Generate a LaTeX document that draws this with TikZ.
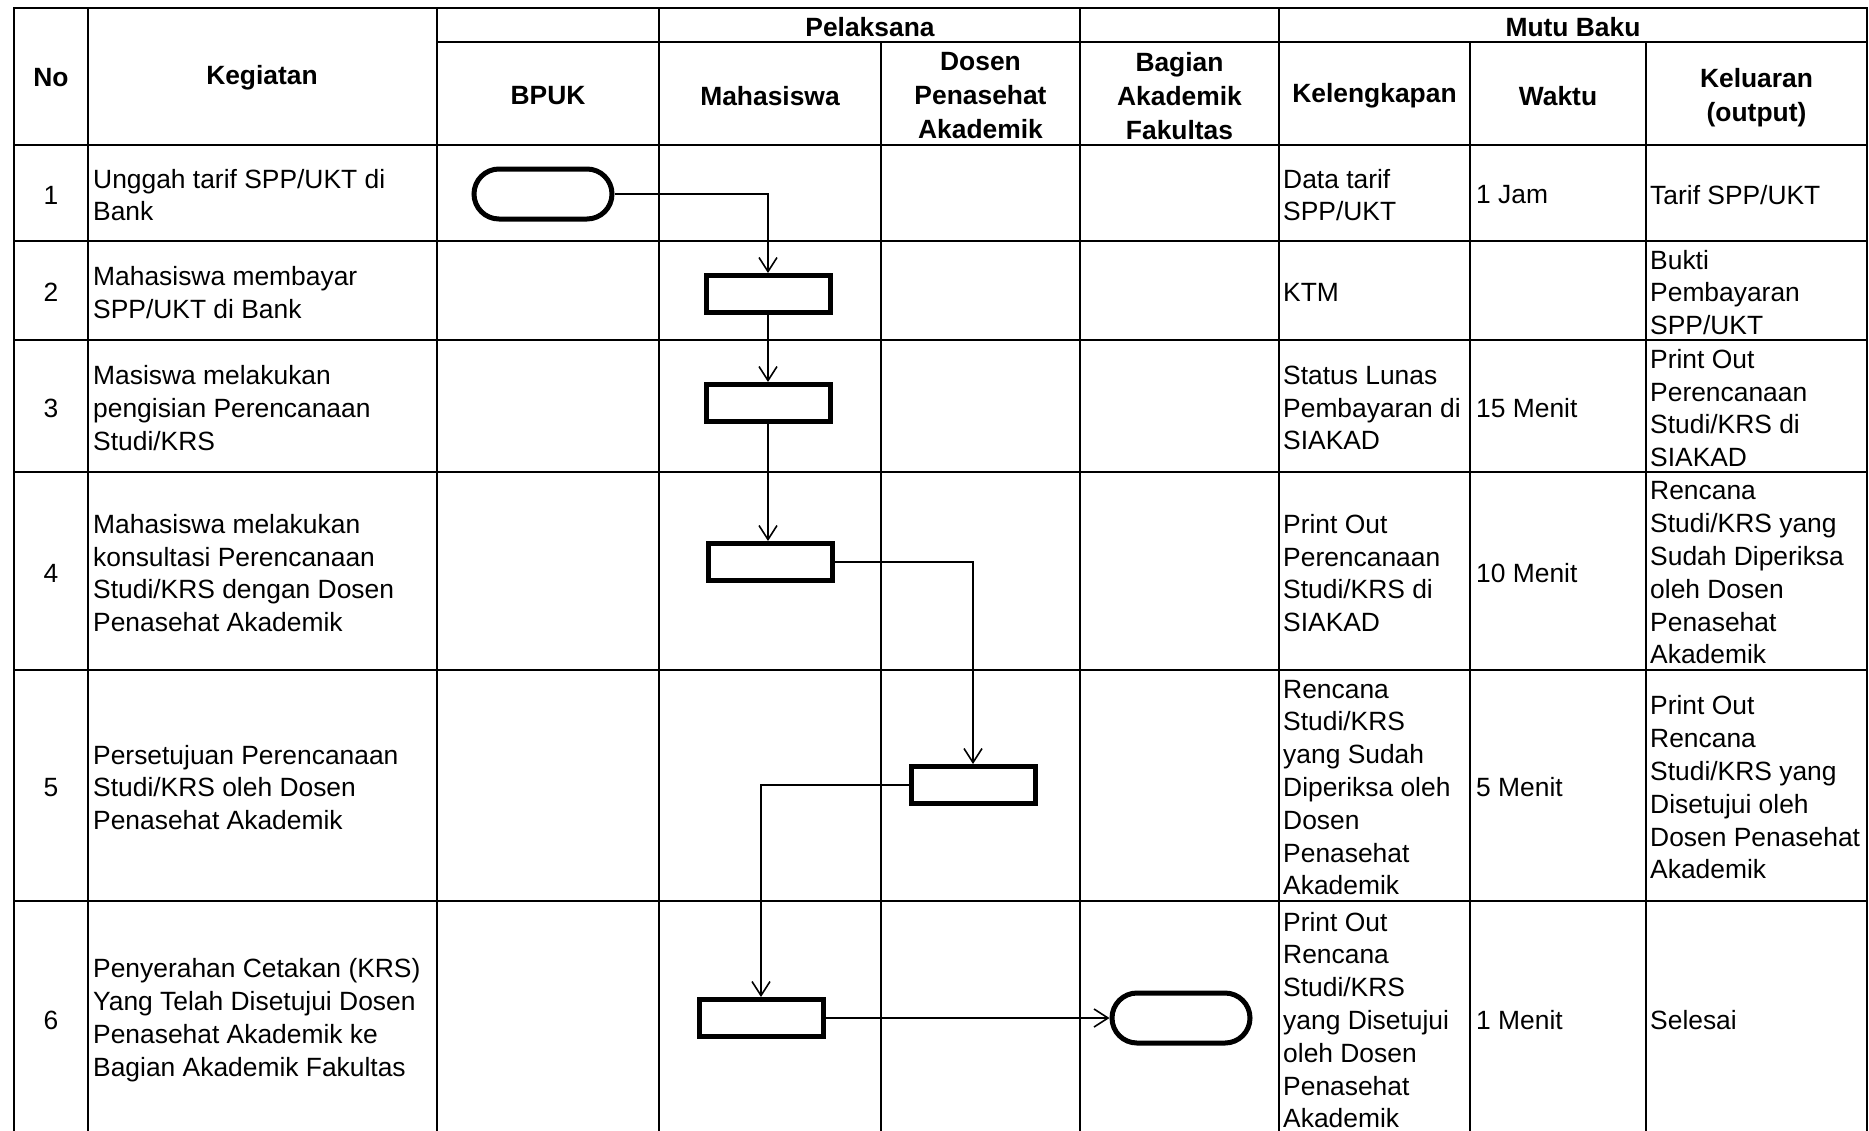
\documentclass[tikz,border=0pt]{standalone}
\usepackage{fontspec}
\setmainfont{Liberation Sans}
\usetikzlibrary{arrows.meta}
\begin{document}
\begin{tikzpicture}[x=1pt,y=-1pt,
  grid/.style={line width=2pt, line cap=rect},
  box/.style={draw, line width=5pt, minimum width=124pt, minimum height=37pt, inner sep=0pt},
  term/.style={draw, line width=5pt, rounded corners=25pt, minimum width=138pt, minimum height=50pt, inner sep=0pt},
  conn/.style={line width=1.6pt, -{Straight Barb[length=14pt,width=18pt,line width=1.6pt]}},
  txt/.style={font=\fontsize{26.4pt}{32.8pt}\selectfont, align=left, anchor=west, inner sep=0pt, yshift=-2pt},
  hd/.style={font=\fontsize{26.4pt}{34pt}\selectfont\bfseries, align=center, inner sep=0pt, yshift=-2pt},
  num/.style={font=\fontsize{26.4pt}{32.8pt}\selectfont, inner sep=0pt, yshift=-2pt}]
\fill[white] (0,0) rectangle (1869,1130);
\useasboundingbox (0,0) rectangle (1869,1130);
% grid
\foreach \yy in {8,145,241,340,472,670,901} \draw[grid] (14,\yy) -- (1867,\yy);
\draw[grid] (437,42) -- (1867,42);
\foreach \xx in {14,88,437,659,1080,1279,1867} \draw[grid] (\xx,8) -- (\xx,1130);
\foreach \xx in {881,1470,1646} \draw[grid] (\xx,42) -- (\xx,1130);
% headers
\node[hd] (hno) at (51,76) {No};
\node[hd] (hkeg) at (262,76) {Kegiatan};
\node[hd] (hpel) at (870,25) {Pelaksana};
\node[hd] (hmutu) at (1573,25) {Mutu Baku};
\node[hd] (hbpuk) at (548,94) {BPUK};
\node[hd] (hmhs) at (770,94) {Mahasiswa};
\node[hd] (hdpa) at (980.5,94) {Dosen\\Penasehat\\Akademik};
\node[hd] (hbaf) at (1179.5,94) {Bagian\\Akademik\\Fakultas};
\node[hd] (hkel) at (1374.5,94) {Kelengkapan};
\node[hd] (hwak) at (1558,94) {Waktu};
\node[hd] (hout) at (1756.5,96) {Keluaran\\(output)};
% row 1
\node[num] (n1) at (51,193) {1};
\node[txt] (k1) at (93,193) {Unggah tarif SPP/UKT di\\Bank};
\node[txt] (l1) at (1283,193) {Data tarif\\SPP/UKT};
\node[txt] (w1) at (1476,193) {1 Jam};
\node[txt] (o1) at (1650,193) {Tarif SPP/UKT};
% row 2
\node[num] (n2) at (51,290.5) {2};
\node[txt] (k2) at (93,290.5) {Mahasiswa membayar\\SPP/UKT di Bank};
\node[txt] (l2) at (1283,290.5) {KTM};
\node[txt] (o2) at (1650,290.5) {Bukti\\Pembayaran\\SPP/UKT};
% row 3
\node[num] (n3) at (51,406) {3};
\node[txt] (k3) at (93,406) {Masiswa melakukan\\pengisian Perencanaan\\Studi/KRS};
\node[txt] (l3) at (1283,406) {Status Lunas\\Pembayaran di\\SIAKAD};
\node[txt] (w3) at (1476,406) {15 Menit};
\node[txt] (o3) at (1650,406) {Print Out\\Perencanaan\\Studi/KRS di\\SIAKAD};
% row 4
\node[num] (n4) at (51,571) {4};
\node[txt] (k4) at (93,571) {Mahasiswa melakukan\\konsultasi Perencanaan\\Studi/KRS dengan Dosen\\Penasehat Akademik};
\node[txt] (l4) at (1283,571) {Print Out\\Perencanaan\\Studi/KRS di\\SIAKAD};
\node[txt] (w4) at (1476,571) {10 Menit};
\node[txt] (o4) at (1650,571) {Rencana\\Studi/KRS yang\\Sudah Diperiksa\\oleh Dosen\\Penasehat\\Akademik};
% row 5
\node[num] (n5) at (51,785.5) {5};
\node[txt] (k5) at (93,785.5) {Persetujuan Perencanaan\\Studi/KRS oleh Dosen\\Penasehat Akademik};
\node[txt] (l5) at (1283,785.5) {Rencana\\Studi/KRS\\yang Sudah\\Diperiksa oleh\\Dosen\\Penasehat\\Akademik};
\node[txt] (w5) at (1476,785.5) {5 Menit};
\node[txt] (o5) at (1650,785.5) {Print Out\\Rencana\\Studi/KRS yang\\Disetujui oleh\\Dosen Penasehat\\Akademik};
% row 6
\node[num] (n6) at (51,1018) {6};
\node[txt] (k6) at (93,1018) {Penyerahan Cetakan (KRS)\\Yang Telah Disetujui Dosen\\Penasehat Akademik ke\\Bagian Akademik Fakultas};
\node[txt] (l6) at (1283,1018) {Print Out\\Rencana\\Studi/KRS\\yang Disetujui\\oleh Dosen\\Penasehat\\Akademik};
\node[txt] (w6) at (1476,1018) {1 Menit};
\node[txt] (o6) at (1650,1018) {Selesai};
% flow shapes
\node[term] (t1) at (543,194) {};
\node[box] (b2) at (768,294) {};
\node[box] (b3) at (768,403) {};
\node[box] (b4) at (770,562) {};
\node[box] (b5) at (973,785) {};
\node[box] (b6) at (761,1018) {};
\node[term] (t6) at (1181,1018) {};
% connectors
\draw[conn] (t1.east) -| (b2.north);
\draw[conn] (b2.south) -- (b3.north);
\draw[conn] (b3.south) -- (b3.south |- b4.north);
\draw[conn] (b4.east) -| (b5.north);
\draw[conn] (b5.west) -| (b6.north);
\draw[conn] (b6.east) -- (t6.west);
\end{tikzpicture}
\end{document}
